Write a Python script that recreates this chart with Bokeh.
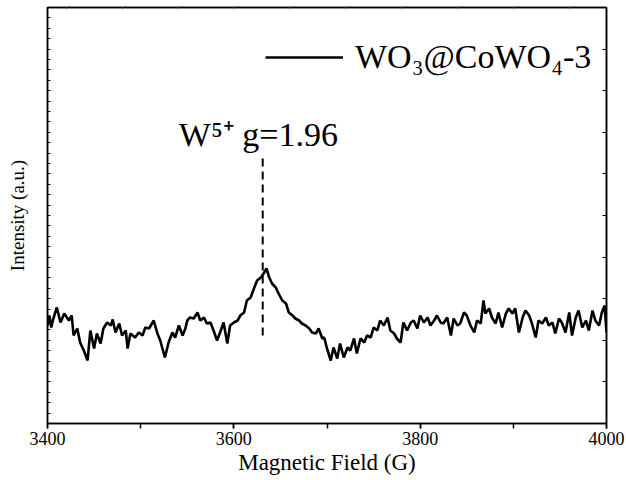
from bokeh.plotting import figure
from bokeh.models import (Range1d, LinearAxis, SingleIntervalTicker, FixedTicker, Label,
                          Legend, LegendItem, CustomJSTickFormatter)
from bokeh.embed import file_html
from bokeh.resources import INLINE

# ---- data ----
field_a = [3400, 3402, 3404, 3406, 3410, 3414, 3418, 3423, 3426, 3428,
           3432, 3435, 3439, 3443, 3446, 3450, 3453, 3457, 3460, 3464,
           3468, 3470, 3473, 3477, 3480, 3484, 3486, 3489, 3494, 3498,
           3502, 3505, 3509, 3514, 3518, 3521, 3526, 3530, 3534, 3537,
           3541, 3545, 3548]
int_a = [98, 108, 96, 104, 116, 101, 110, 103, 108, 88,
         95, 81, 73, 63, 93, 75, 90, 80, 95, 101,
         98, 104, 91, 100, 88, 93, 75, 90, 86, 91,
         88, 96, 95, 103, 90, 83, 66, 81, 91, 86,
         98, 88, 95]

field_b = [3550, 3553, 3557, 3561, 3564, 3568, 3571, 3575, 3579, 3582,
           3586, 3589, 3593, 3596, 3600, 3604, 3607, 3611, 3614, 3618,
           3622, 3625, 3629, 3632, 3635, 3638, 3641, 3645, 3648, 3652,
           3656, 3659, 3663, 3666, 3670, 3673, 3677, 3681, 3684, 3688,
           3691, 3695]
int_b = [103, 106, 105, 111, 103, 106, 100, 101, 91, 83,
         93, 101, 80, 98, 101, 103, 108, 111, 123, 126,
         136, 143, 146, 150, 155, 146, 140, 136, 130, 123,
         120, 111, 108, 105, 103, 100, 98, 95, 91, 90,
         95, 85]

field_c = [3697, 3700, 3704, 3707, 3711, 3714, 3718, 3722, 3725, 3729,
           3732, 3736, 3740, 3743, 3747, 3750, 3754, 3757, 3761, 3765,
           3768, 3772, 3775, 3779, 3782, 3786, 3790, 3793, 3797, 3800,
           3804, 3808, 3811, 3815, 3818, 3822, 3825, 3829, 3833, 3836,
           3840, 3843]
int_c = [86, 75, 63, 76, 65, 80, 66, 76, 73, 85,
         70, 85, 81, 88, 86, 96, 93, 103, 98, 106,
         93, 90, 85, 81, 101, 93, 101, 103, 95, 108,
         101, 106, 98, 103, 108, 101, 100, 106, 88, 105,
         98, 100]

field_d = [3847, 3850, 3854, 3858, 3861, 3865, 3868, 3870, 3874, 3877,
           3881, 3884, 3888, 3892, 3895, 3899, 3902, 3906, 3910, 3913,
           3917, 3920, 3924, 3927, 3931, 3935, 3938, 3942, 3945, 3949,
           3952, 3956, 3960, 3963, 3967, 3970, 3974, 3978, 3981, 3985,
           3988, 3992, 3995, 3998, 4000]
int_d = [111, 108, 98, 91, 103, 100, 123, 110, 115, 106,
         100, 111, 96, 110, 115, 110, 115, 91, 106, 113,
         108, 100, 86, 103, 100, 106, 98, 101, 90, 105,
         101, 91, 111, 88, 106, 113, 96, 103, 93, 113,
         103, 98, 111, 118, 91]

field = field_a + field_b + field_c + field_d
intensity = int_a + int_b + int_c + int_d

series_label = "WO\u2083@CoWO\u2084-3"
peak_label = "W\u2075\u207a g=1.96"
peak_field = 3631
peak_line_low = 88
peak_line_high = 270
x_ticks_step = 200

FONT = "Liberation Serif"

p = figure(width=626, height=480, output_backend="svg", toolbar_location=None,
           x_range=Range1d(3400, 4000), y_range=Range1d(0, 416),
           min_border_left=47, min_border_right=20, min_border_top=7,
           min_border_bottom=57,
           x_axis_label="Magnetic Field (G)", y_axis_label="Intensity (a.u.)")
p.grid.visible = False
p.outline_line_color = "black"
p.outline_line_width = 1.5
p.background_fill_color = "white"
p.border_fill_color = "white"

empty = CustomJSTickFormatter(code="return ''")

xa = p.xaxis[0]
xa.ticker = SingleIntervalTicker(interval=x_ticks_step, num_minor_ticks=2)
xa.major_tick_in = 0
xa.major_tick_out = 5
xa.minor_tick_in = 0
xa.minor_tick_out = 5
xa.axis_line_width = 1.5
xa.major_tick_line_width = 1.5
xa.minor_tick_line_width = 1.5
xa.major_label_text_font = FONT
xa.major_label_text_font_size = "18px"
xa.major_label_text_color = "black"
xa.major_label_standoff = 3
xa.axis_label_text_font = FONT
xa.axis_label_text_font_size = "23px"
xa.axis_label_text_font_style = "normal"
xa.axis_label_text_color = "black"
xa.axis_label_standoff = 2

ya = p.yaxis[0]
ya.ticker = FixedTicker(ticks=[i * 10.4 for i in range(41)])
ya.major_tick_in = 3
ya.major_tick_out = 0
ya.minor_tick_in = 0
ya.minor_tick_out = 0
ya.axis_line_width = 1.5
ya.major_tick_line_width = 1
ya.formatter = empty
ya.major_label_text_font_size = "0px"
ya.major_label_standoff = 0
ya.axis_label_text_font = FONT
ya.axis_label_text_font_size = "19px"
ya.axis_label_text_font_style = "normal"
ya.axis_label_text_color = "black"
ya.axis_label_standoff = 20

ra = LinearAxis(ticker=FixedTicker(ticks=[i * 41.6 for i in range(11)]),
                formatter=empty, major_tick_in=4, major_tick_out=0,
                minor_tick_in=0, minor_tick_out=0, axis_line_width=1.5,
                major_label_text_font_size="0px", major_label_standoff=0)
p.add_layout(ra, "right")

ta = LinearAxis(ticker=SingleIntervalTicker(interval=60, num_minor_ticks=0),
                formatter=empty, major_tick_in=2, major_tick_out=0,
                minor_tick_in=0, minor_tick_out=0, axis_line_width=1.5,
                major_tick_line_color="#888888",
                major_label_text_font_size="0px", major_label_standoff=0)
p.add_layout(ta, "above")

r = p.line(field, intensity, line_color="black", line_width=2.6)

p.segment(x0=[peak_field], y0=[peak_line_low], x1=[peak_field], y1=[peak_line_high],
          line_color="black", line_width=2, line_dash="8 5")

p.add_layout(Label(x=3541, y=289, text=peak_label, text_font=FONT,
                   text_font_size="34px", text_baseline="alphabetic",
                   text_color="black"))

legend = Legend(items=[LegendItem(label=series_label, renderers=[r])],
                location=(218, 347), glyph_width=78, glyph_height=30,
                label_standoff=12, label_text_font=FONT,
                label_text_font_size="34px", label_text_color="black",
                border_line_alpha=0, background_fill_alpha=0,
                padding=0, margin=0, spacing=0)
p.add_layout(legend)

open("out.html", "w").write(file_html(p, INLINE))
